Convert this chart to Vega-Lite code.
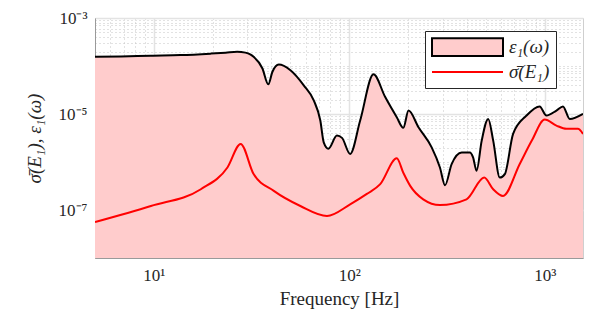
{
  "$schema": "https://vega.github.io/schema/vega-lite/v6.json",
  "width": 488,
  "height": 240,
  "autosize": {"type": "none"},
  "padding": {"left": 95, "top": 18, "right": 13, "bottom": 65},
  "background": "white",
  "config": {
    "view": {"stroke": "#cfcfcf", "strokeWidth": 1},
    "font": "Liberation Serif"
  },
  "datasets": {
    "eps": [
      {"f": 5.0, "v": 1.55e-4}, {"f": 6.79, "v": 1.58e-4}, {"f": 9.66, "v": 1.64e-4},
      {"f": 13.7, "v": 1.69e-4}, {"f": 19.5, "v": 1.81e-4}, {"f": 23.3, "v": 1.89e-4},
      {"f": 26.7, "v": 1.97e-4}, {"f": 29.4, "v": 1.9e-4}, {"f": 31.3, "v": 1.72e-4},
      {"f": 32.4, "v": 1.55e-4}, {"f": 35.9, "v": 8.97e-5}, {"f": 38.5, "v": 4.15e-5},
      {"f": 40.4, "v": 7.5e-5}, {"f": 43.6, "v": 1.07e-4}, {"f": 50.0, "v": 8.15e-5},
      {"f": 58.5, "v": 3.95e-5}, {"f": 65.8, "v": 1.92e-5}, {"f": 71.1, "v": 7.3e-6},
      {"f": 74.0, "v": 2.57e-6}, {"f": 78.2, "v": 1.89e-6}, {"f": 86.5, "v": 3.55e-6},
      {"f": 91.8, "v": 3.18e-6}, {"f": 101, "v": 1.47e-6}, {"f": 113.7, "v": 7.3e-6},
      {"f": 133, "v": 6.7e-5}, {"f": 152.7, "v": 2.25e-5}, {"f": 175, "v": 8.57e-6},
      {"f": 189, "v": 5.14e-6}, {"f": 201, "v": 1.18e-5}, {"f": 226, "v": 5.3e-6},
      {"f": 264, "v": 2.02e-6}, {"f": 291, "v": 7.7e-7}, {"f": 309, "v": 3.29e-7},
      {"f": 334, "v": 9.06e-7}, {"f": 376, "v": 1.58e-6}, {"f": 414, "v": 1.58e-6},
      {"f": 430, "v": 1.25e-6}, {"f": 448, "v": 6.56e-7}, {"f": 476, "v": 2.79e-6},
      {"f": 514, "v": 7.9e-6}, {"f": 545, "v": 2.79e-6}, {"f": 589, "v": 4.74e-7},
      {"f": 625, "v": 5.6e-7}, {"f": 689, "v": 3.85e-6}, {"f": 807, "v": 9.3e-6},
      {"f": 942, "v": 1.44e-5}, {"f": 1020, "v": 9.3e-6}, {"f": 1148, "v": 1.18e-5},
      {"f": 1240, "v": 1.44e-5}, {"f": 1343, "v": 7.9e-6}, {"f": 1570, "v": 1.01e-5}
    ],
    "sig": [
      {"f": 5.0, "v": 5.6e-8}, {"f": 9.66, "v": 1.21e-7}, {"f": 17.4, "v": 2.71e-7},
      {"f": 23.8, "v": 7.7e-7}, {"f": 27.8, "v": 2.38e-6}, {"f": 32.4, "v": 5.6e-7},
      {"f": 41.1, "v": 2.5e-7}, {"f": 56.2, "v": 1.21e-7}, {"f": 76.9, "v": 7.5e-8},
      {"f": 101, "v": 1.31e-7}, {"f": 123, "v": 2.16e-7}, {"f": 144, "v": 3.45e-7},
      {"f": 175, "v": 1.19e-6}, {"f": 189, "v": 5.96e-7}, {"f": 205, "v": 3.18e-7},
      {"f": 239, "v": 1.67e-7}, {"f": 291, "v": 1.27e-7}, {"f": 398, "v": 1.67e-7},
      {"f": 490, "v": 4.74e-7}, {"f": 545, "v": 2.71e-7}, {"f": 612, "v": 1.96e-7},
      {"f": 745, "v": 9.06e-7}, {"f": 859, "v": 2.79e-6}, {"f": 1000, "v": 7.67e-6},
      {"f": 1148, "v": 5.74e-6}, {"f": 1291, "v": 4.9e-6}, {"f": 1479, "v": 4.9e-6},
      {"f": 1570, "v": 3.85e-6}
    ]
  },
  "encoding": {
    "x": {
      "field": "f", "type": "quantitative",
      "scale": {"type": "log", "domain": [5, 1570], "nice": false},
      "axis": {
        "title": "Frequency [Hz]",
        "titleFont": "Liberation Serif", "titleFontSize": 19, "titleFontWeight": "normal", "titleColor": "#262626",
        "titlePadding": 6,
        "labelFont": "Liberation Serif", "labelFontSize": 17, "labelColor": "#262626",
        "labelPadding": 9,
        "ticks": false, "tickSize": 0,
        "domainColor": "#9a9a9a",
        "values": [5,6,7,8,9,10,20,30,40,50,60,70,80,90,100,200,300,400,500,600,700,800,900,1000],
        "labelExpr": "datum.value == 10 ? '10¹' : datum.value == 100 ? '10²' : datum.value == 1000 ? '10³' : ''",
        "labelOverlap": false,
        "grid": true,
        "gridColor": {"condition": {"test": "datum.value == 10 || datum.value == 100 || datum.value == 1000", "value": "#e3e3e3"}, "value": "#c4c4c4"},
        "gridDash": {"condition": {"test": "datum.value == 10 || datum.value == 100 || datum.value == 1000", "value": [6, 0]}, "value": [1, 3]},
        "gridWidth": {"condition": {"test": "datum.value == 10 || datum.value == 100 || datum.value == 1000", "value": 1.5}, "value": 1}
      }
    },
    "y": {
      "field": "v", "type": "quantitative",
      "scale": {"type": "log", "domain": [1e-8, 1e-3], "nice": false},
      "axis": {
        "title": "σ̄(E₁), ε₁(ω)",
        "titleFont": "Liberation Serif", "titleFontSize": 19, "titleFontWeight": "normal", "titleFontStyle": "italic", "titleColor": "#262626",
        "titlePadding": 14,
        "labelFont": "Liberation Serif", "labelFontSize": 17, "labelColor": "#262626",
        "labelPadding": 8,
        "ticks": false, "tickSize": 0,
        "domainColor": "#9a9a9a",
        "values": [1e-8,2e-8,3e-8,4e-8,5e-8,6e-8,7e-8,8e-8,9e-8,1e-7,2e-7,3e-7,4e-7,5e-7,6e-7,7e-7,8e-7,9e-7,1e-6,2e-6,3e-6,4e-6,5e-6,6e-6,7e-6,8e-6,9e-6,1e-5,2e-5,3e-5,4e-5,5e-5,6e-5,7e-5,8e-5,9e-5,1e-4,2e-4,3e-4,4e-4,5e-4,6e-4,7e-4,8e-4,9e-4,1e-3],
        "labelExpr": "datum.value > 0.99e-3 ? '10⁻³' : (datum.value > 0.99e-5 && datum.value < 1.01e-5) ? '10⁻⁵' : (datum.value > 0.99e-7 && datum.value < 1.01e-7) ? '10⁻⁷' : ''",
        "labelOverlap": false,
        "grid": true,
        "gridColor": {"condition": {"test": "datum.value > 0.99e-3 || (datum.value > 0.99e-5 && datum.value < 1.01e-5) || (datum.value > 0.99e-7 && datum.value < 1.01e-7)", "value": "#e3e3e3"}, "value": "#c4c4c4"},
        "gridDash": {"condition": {"test": "datum.value > 0.99e-3 || (datum.value > 0.99e-5 && datum.value < 1.01e-5) || (datum.value > 0.99e-7 && datum.value < 1.01e-7)", "value": [6, 0]}, "value": [1, 3]},
        "gridWidth": {"condition": {"test": "datum.value > 0.99e-3 || (datum.value > 0.99e-5 && datum.value < 1.01e-5) || (datum.value > 0.99e-7 && datum.value < 1.01e-7)", "value": 1.5}, "value": 1}
      }
    }
  },
  "layer": [
    {
      "data": {"name": "eps"},
      "mark": {"type": "area", "interpolate": "monotone", "clip": true, "color": "#ffcccc", "opacity": 1},
      "encoding": {
        "y2": {"datum": 1e-8}
      }
    },
    {
      "data": {"name": "eps"},
      "mark": {"type": "line", "interpolate": "monotone", "clip": true, "color": "#000000", "strokeWidth": 2},
      "encoding": {}
    },
    {
      "data": {"name": "sig"},
      "mark": {"type": "line", "interpolate": "monotone", "clip": true, "color": "#ff0000", "strokeWidth": 2},
      "encoding": {}
    },
    {
      "data": {"name": "eps"},
      "transform": [{"filter": "datum.f < 0"}],
      "mark": {"type": "point", "filled": true, "opacity": 1, "strokeWidth": 2, "clip": true},
      "encoding": {
        "fill": {
          "datum": "ε₁(ω)",
          "scale": {"domain": ["ε₁(ω)", "σ̄(E₁)"], "range": ["#ffcccc", "transparent"]},
          "legend": {
            "title": null,
            "orient": "none",
            "legendX": 330,
            "legendY": 13,
            "padding": 6,
            "strokeColor": "#262626",
            "fillColor": "white",
            "symbolSize": 5041,
            "symbolStrokeWidth": 2,
            "symbolOpacity": 1,
            "clipHeight": 20,
            "rowPadding": 5,
            "labelOffset": 5,
            "labelFont": "Liberation Serif",
            "labelFontSize": 19,
            "labelFontStyle": "italic",
            "labelColor": "#262626",
            "labelLimit": 200
          }
        },
        "stroke": {
          "datum": "ε₁(ω)",
          "scale": {"domain": ["ε₁(ω)", "σ̄(E₁)"], "range": ["#000000", "#ff0000"]},
          "legend": {
            "title": null,
            "orient": "none",
            "legendX": 330,
            "legendY": 13,
            "padding": 6,
            "strokeColor": "#262626",
            "fillColor": "white",
            "symbolSize": 5041,
            "symbolStrokeWidth": 2,
            "symbolOpacity": 1,
            "clipHeight": 20,
            "rowPadding": 5,
            "labelOffset": 5,
            "labelFont": "Liberation Serif",
            "labelFontSize": 19,
            "labelFontStyle": "italic",
            "labelColor": "#262626",
            "labelLimit": 200
          }
        },
        "shape": {
          "datum": "ε₁(ω)",
          "scale": {"domain": ["ε₁(ω)", "σ̄(E₁)"], "range": ["M-1,-0.25H1V0.25H-1Z", "M-1,0H1"]},
          "legend": {
            "title": null,
            "orient": "none",
            "legendX": 330,
            "legendY": 13,
            "padding": 6,
            "strokeColor": "#262626",
            "fillColor": "white",
            "symbolSize": 5041,
            "symbolStrokeWidth": 2,
            "symbolOpacity": 1,
            "clipHeight": 20,
            "rowPadding": 5,
            "labelOffset": 5,
            "labelFont": "Liberation Serif",
            "labelFontSize": 19,
            "labelFontStyle": "italic",
            "labelColor": "#262626",
            "labelLimit": 200
          }
        }
      }
    }
  ]
}
